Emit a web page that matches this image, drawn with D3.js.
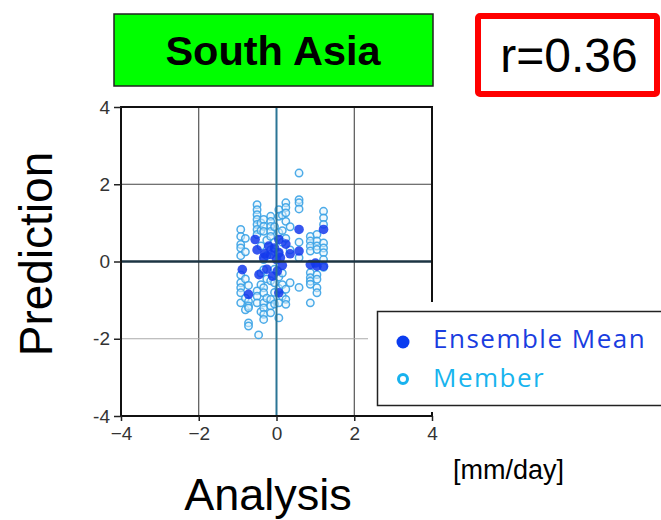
<!DOCTYPE html>
<html>
<head>
<meta charset="utf-8">
<script src="https://cdn.jsdelivr.net/npm/d3@7"></script>
<style>
  body { margin: 0; background: #fff; }
  svg { display: block; }
</style>
</head>
<body>
<svg id="chart" width="661" height="520"></svg>
<script>
// Values (analysis vs prediction, mm/day)
var ticks = [-4, -2, 0, 2, 4]
var yTickLabels = ["-4", "-2", "0", "2", "4"]
var xTickLabels = ["\u22124", "\u22122", "0", "2", "4"]

// each member: [analysis, prediction]
var members = [
  [-0.92, 0.83], [-0.92, 0.65], [-0.92, 0.44], [-0.92, 0.35], [-0.92, 0.15], [-0.92, -0.35],
  [-0.92, -0.55], [-0.92, -0.68], [-0.92, -0.81], [-0.92, -1.07],
  [-0.80, 0.60], [-0.80, 0.25], [-0.80, -0.45], [-0.80, -0.95], [-0.80, -1.25],
  [-0.72, -0.62], [-0.72, -1.03], [-0.72, -1.15], [-0.72, -1.20], [-0.72, -1.59], [-0.72, -1.67],
  [-0.50, 1.47], [-0.50, 1.34], [-0.50, 1.21], [-0.50, 1.09], [-0.50, 0.96], [-0.50, 0.83],
  [-0.50, 0.70], [-0.50, -0.76], [-0.50, -0.90], [-0.50, -1.07], [-0.46, -1.90],
  [-0.40, 1.00], [-0.40, 0.80], [-0.40, 0.40], [-0.40, -0.30], [-0.40, -0.60], [-0.40, -1.30],
  [-0.33, 1.09], [-0.33, 0.91], [-0.33, 0.78], [-0.33, 0.05], [-0.33, -0.21], [-0.33, -0.68],
  [-0.33, -0.81], [-0.33, -1.07], [-0.33, -1.20], [-0.33, -1.37], [-0.33, -1.50],
  [-0.25, 0.55], [-0.25, 0.15], [-0.25, -0.45], [-0.25, -0.95],
  [-0.15, 1.17], [-0.15, 1.04], [-0.15, 0.91], [-0.15, 0.78], [-0.15, 0.65], [-0.15, 0.30],
  [-0.15, -0.50], [-0.15, -0.98], [-0.15, -1.15], [-0.15, -1.33],
  [-0.05, 0.90], [-0.05, 0.50], [-0.05, 0.25], [-0.05, -0.20], [-0.05, -0.55], [-0.05, -0.80], [-0.05, -1.10],
  [0.06, 1.34], [0.06, 1.17], [0.06, 0.75], [0.06, 0.20], [0.06, -0.40], [0.06, -0.70], [0.06, -1.07], [0.06, -1.46],
  [0.15, 1.20], [0.15, 0.80], [0.15, 0.50], [0.15, -0.30], [0.15, -0.60], [0.15, -0.90],
  [0.24, 1.52], [0.24, 1.40], [0.24, 1.26], [0.24, 1.04], [0.24, 0.60], [0.24, -0.72],
  [0.24, -0.98], [0.24, -1.11],
  [0.35, 0.90], [0.35, 0.30], [0.35, -0.55],
  [0.58, 2.29], [0.58, 1.60], [0.58, 1.52], [0.58, 1.36], [0.58, 0.50], [0.58, 0.10], [0.58, -0.67],
  [0.87, 0.65], [0.87, 0.53], [0.87, 0.40], [0.87, 0.27], [0.87, -0.29], [0.87, -0.42],
  [0.87, -0.51], [0.87, -0.59], [0.87, -1.07],
  [1.04, 0.70], [1.04, 0.53], [1.04, 0.40], [1.04, 0.31], [1.04, -0.34], [1.04, -0.46],
  [1.04, -0.68], [1.04, -0.81],
  [1.21, 1.30], [1.21, 1.13], [1.21, 0.96], [1.21, 0.48], [1.21, 0.35], [1.21, 0.23],
  [1.21, 0.05], [1.21, -0.15]
]

// ensemble means: [analysis, prediction]
var means = [
  [-0.88, -0.21], [-0.72, -0.85], [-0.55, 0.57], [-0.50, 0.30], [-0.45, -0.34],
  [-0.33, 0.10], [-0.25, -0.20], [-0.20, 0.40], [-0.15, 0.18], [-0.10, -0.38],
  [0.00, 0.05], [0.06, 0.57], [0.06, 0.23], [0.06, -0.81], [0.10, 0.10],
  [0.15, -0.10], [0.24, 0.45], [0.35, 0.20], [0.58, 0.83], [0.58, 0.27],
  [0.87, -0.08], [1.00, -0.04], [1.04, -0.12], [1.21, 0.83], [1.21, -0.12],
  [-0.05, 0.35], [0.02, -0.25], [-0.30, 0.20]
]

var legendLabels = ["Ensemble Mean", "Member"]

var svg = d3.select("#chart")

var x = d3.scaleLinear().domain([-4, 4]).range([121, 432])
var y = d3.scaleLinear().domain([-4, 4]).range([416, 107])

// title boxes
svg.append("rect")
  .attr("x", 114).attr("y", 14).attr("width", 319).attr("height", 72)
  .attr("fill", "#00ff00").attr("stroke", "#222").attr("stroke-width", 1.5)
svg.append("text")
  .attr("x", 273).attr("y", 65)
  .attr("text-anchor", "middle")
  .style("font-family", "Liberation Sans, Arial, sans-serif")
  .style("font-weight", "bold").style("font-size", "41.5px")
  .text("South Asia")

svg.append("rect")
  .attr("x", 478).attr("y", 16).attr("width", 179).attr("height", 78)
  .attr("fill", "#fff").attr("stroke", "#f00").attr("stroke-width", 6).attr("rx", 2)
svg.append("text")
  .attr("x", 569).attr("y", 72)
  .attr("text-anchor", "middle")
  .style("font-family", "Liberation Sans, Arial, sans-serif")
  .style("font-size", "48px")
  .text("r=0.36")

// grid
var grid = svg.append("g")
grid.selectAll(".vgrid").data([-2, 2]).enter().append("line")
  .attr("x1", function(d) { return x(d) }).attr("x2", function(d) { return x(d) })
  .attr("y1", y(4)).attr("y2", y(-4))
  .style("stroke", "#333").style("stroke-width", 1)
grid.append("line")
  .attr("x1", x(-4)).attr("x2", x(4)).attr("y1", y(2)).attr("y2", y(2))
  .style("stroke", "#444").style("stroke-width", 1)
grid.append("line")
  .attr("x1", x(-4)).attr("x2", x(4)).attr("y1", y(-2)).attr("y2", y(-2))
  .style("stroke", "#aaa").style("stroke-width", 1)

// points
var pts = svg.append("g")
pts.selectAll(".member").data(members).enter().append("circle")
  .attr("class", "member")
  .attr("cx", function(d) { return x(d[0]) })
  .attr("cy", function(d) { return y(d[1]) })
  .attr("r", 3.7)
  .style("fill", "#e4f3fc").style("fill-opacity", 0.5)
  .style("stroke", "#3aa2e6").style("stroke-width", 1.5).style("stroke-opacity", 0.9)
pts.selectAll(".mean").data(means).enter().append("circle")
  .attr("class", "mean")
  .attr("cx", function(d) { return x(d[0]) })
  .attr("cy", function(d) { return y(d[1]) })
  .attr("r", 4.8)
  .style("fill", "#1438ec").style("fill-opacity", 0.85)

// zero lines
svg.append("line")
  .attr("x1", x(0)).attr("x2", x(0)).attr("y1", y(4)).attr("y2", y(-4))
  .style("stroke", "#2b7595").style("stroke-width", 2)
svg.append("line")
  .attr("x1", x(-4)).attr("x2", x(4)).attr("y1", y(0)).attr("y2", y(0))
  .style("stroke", "#1c3443").style("stroke-width", 2.5)

// frame
svg.append("rect")
  .attr("x", x(-4)).attr("y", y(4)).attr("width", x(4) - x(-4)).attr("height", y(-4) - y(4))
  .attr("fill", "none").attr("stroke", "#111").attr("stroke-width", 2)

// axes
var yAxis = d3.axisLeft(y).tickValues(ticks).tickSize(7).tickPadding(4)
  .tickFormat(function(d, i) { return yTickLabels[i] })
var xAxis = d3.axisBottom(x).tickValues(ticks).tickSize(5).tickPadding(6)
  .tickFormat(function(d, i) { return xTickLabels[i] })

var ya = svg.append("g").attr("transform", "translate(" + x(-4) + ",0)").call(yAxis)
var xa = svg.append("g").attr("transform", "translate(0," + y(-4) + ")").call(xAxis)
;[ya, xa].forEach(function(a) {
  a.select(".domain").remove()
  a.selectAll(".tick line").style("stroke", "#222").style("stroke-width", 1.5)
  a.selectAll("text")
    .style("font-family", "Liberation Sans, Arial, sans-serif")
    .style("font-size", "19px").style("fill", "#333")
})

// axis titles
svg.append("text")
  .attr("transform", "translate(52,254) rotate(-90)")
  .attr("text-anchor", "middle")
  .style("font-family", "Liberation Sans, Arial, sans-serif")
  .style("font-size", "46px")
  .text("Prediction")
svg.append("text")
  .attr("x", 268).attr("y", 510)
  .attr("text-anchor", "middle")
  .style("font-family", "Liberation Sans, Arial, sans-serif")
  .style("font-size", "45px")
  .text("Analysis")
svg.append("text")
  .attr("x", 453).attr("y", 479)
  .style("font-family", "Liberation Sans, Arial, sans-serif")
  .style("font-size", "27px")
  .text("[mm/day]")

// legend
var lg = svg.append("g")
lg.append("rect")
  .attr("x", 368).attr("y", 302).attr("width", 293).attr("height", 110)
  .attr("fill", "#fff")
lg.append("rect")
  .attr("x", 377.5).attr("y", 311.5).attr("width", 290).attr("height", 94)
  .attr("fill", "#fff").attr("stroke", "#222").attr("stroke-width", 1.5)
lg.append("circle").attr("cx", 403).attr("cy", 342).attr("r", 6.5).style("fill", "#0a3cf0")
lg.append("circle").attr("cx", 403).attr("cy", 379).attr("r", 4.5)
  .style("fill", "#fff").style("stroke", "#18b2ee").style("stroke-width", 3)
lg.selectAll(".lgtext").data(legendLabels).enter().append("text")
  .attr("x", 433)
  .attr("y", function(d, i) { return 348 + i * 39 })
  .style("font-family", "Open Sans, sans-serif")
  .style("font-size", "26px")
  .style("letter-spacing", "1.5px")
  .style("fill", function(d, i) { return i == 0 ? "#1a3de0" : "#18b4ee" })
  .text(function(d) { return d })
</script>
</body>
</html>
